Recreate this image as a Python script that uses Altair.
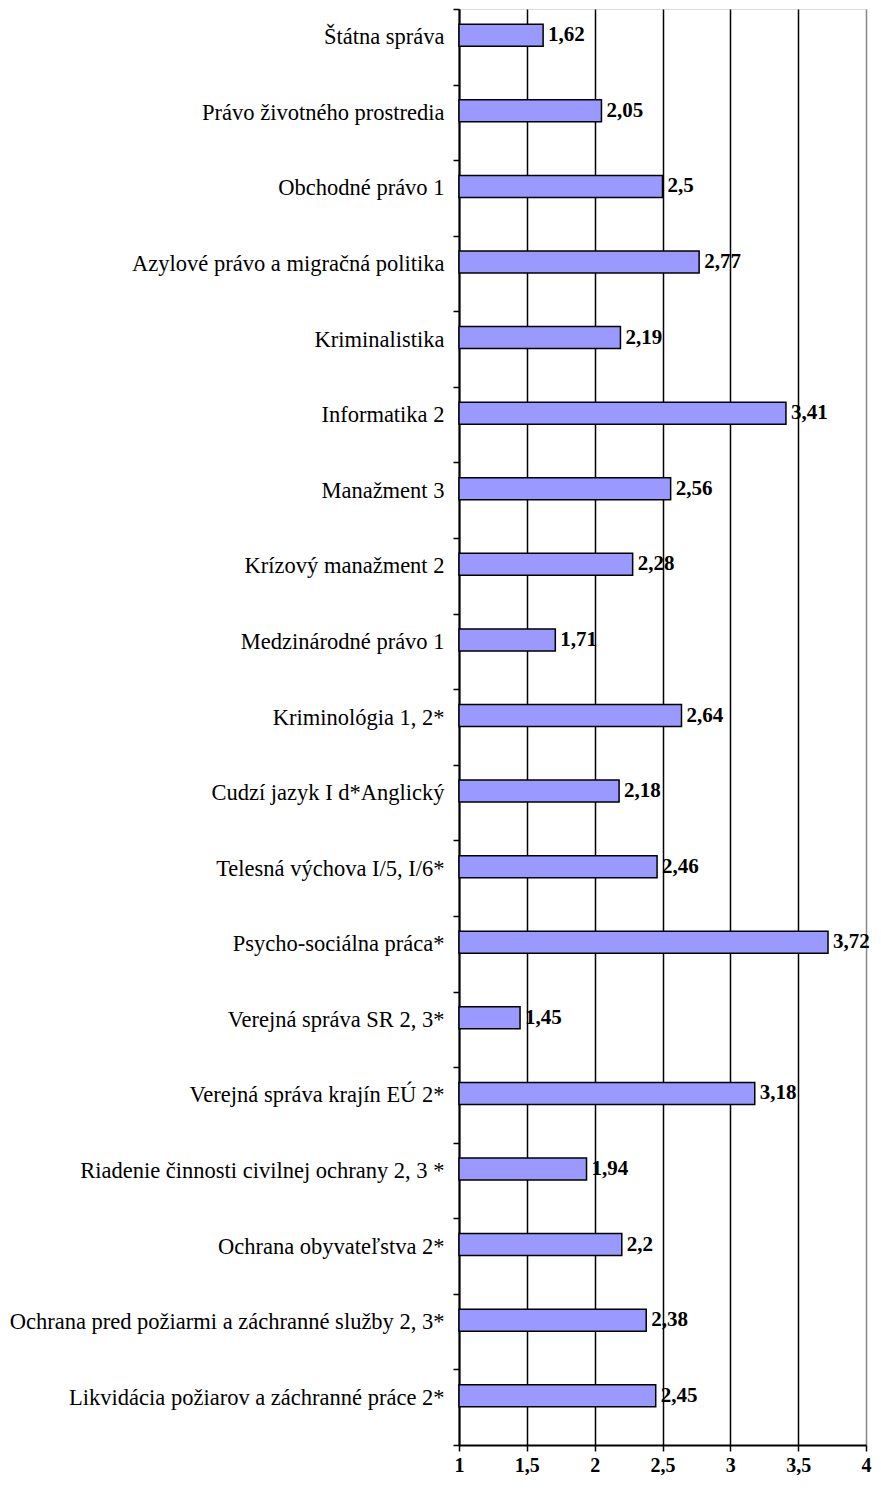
import altair as alt
import pandas as pd

categories = [
    "Štátna správa",
    "Právo životného prostredia",
    "Obchodné právo 1",
    "Azylové právo a migračná politika",
    "Kriminalistika",
    "Informatika 2",
    "Manažment 3",
    "Krízový manažment 2",
    "Medzinárodné právo 1",
    "Kriminológia 1, 2*",
    "Cudzí jazyk I d*Anglický",
    "Telesná výchova I/5, I/6*",
    "Psycho-sociálna práca*",
    "Verejná správa SR 2, 3*",
    "Verejná správa krajín EÚ 2*",
    "Riadenie činnosti civilnej ochrany 2, 3  *",
    "Ochrana obyvateľstva 2*",
    "Ochrana pred požiarmi a záchranné  služby 2, 3*",
    "Likvidácia požiarov a záchranné práce 2*",
]
values = [1.62, 2.05, 2.5, 2.77, 2.19, 3.41, 2.56, 2.28, 1.71, 2.64,
          2.18, 2.46, 3.72, 1.45, 3.18, 1.94, 2.2, 2.38, 2.45]
x_ticks = [1, 1.5, 2, 2.5, 3, 3.5, 4]

df = pd.DataFrame({
    "cat": categories,
    "val": values,
    "lab": [f"{v:g}".replace(".", ",") for v in values],
})

FONT = "Liberation Serif"

y_enc = alt.Y(
    "cat:N", sort=categories, title=None,
    scale=alt.Scale(paddingInner=0, paddingOuter=0),
    axis=alt.Axis(
        labelFont=FONT, labelFontSize=22.5, labelColor="black",
        labelPadding=9, labelOffset=-10, labelLimit=600,
        tickBand="extent", tickColor="black", tickSize=6, tickWidth=1.5,
        domainColor="black", domainWidth=2, grid=False,
    ),
)
x_enc = alt.X(
    "val:Q", title=None,
    scale=alt.Scale(domain=[1, 4], zero=False, nice=False),
    axis=alt.Axis(
        values=x_ticks,
        labelExpr="replace(format(datum.value, '~g'), '.', ',')",
        labelFont=FONT, labelFontSize=20, labelFontWeight="bold",
        labelColor="black", labelPadding=4, labelFlush=False,
        tickColor="black", tickSize=6, tickWidth=1.5,
        domainColor="black", domainWidth=2,
        grid=True,
        gridColor={"condition": {"test": "datum.value >= 4", "value": "#888888"},
                   "value": "black"},
        gridWidth=1.5,
    ),
)

bars = alt.Chart(df).mark_bar(
    color="#9999FF", stroke="black", strokeWidth=1.5, height=22, yOffset=-11.5
).encode(y=y_enc, x=x_enc, x2=alt.datum(1))

texts = alt.Chart(df).mark_text(
    align="left", baseline="middle", dx=5, yOffset=-11.5,
    font=FONT, fontSize=21, fontWeight="bold", color="black"
).encode(y=alt.Y("cat:N", sort=categories), x=alt.X("val:Q"), text="lab:N")

chart = (bars + texts).properties(
    width=407, height=1436,
    autosize=alt.AutoSizeParams(type="none"),
    padding={"left": 451, "top": 1, "right": 6, "bottom": 30},
).configure_view(stroke="#888888", strokeWidth=2).configure(background="white")

chart.save("out.html", embed_options={"renderer": "svg", "actions": False})
